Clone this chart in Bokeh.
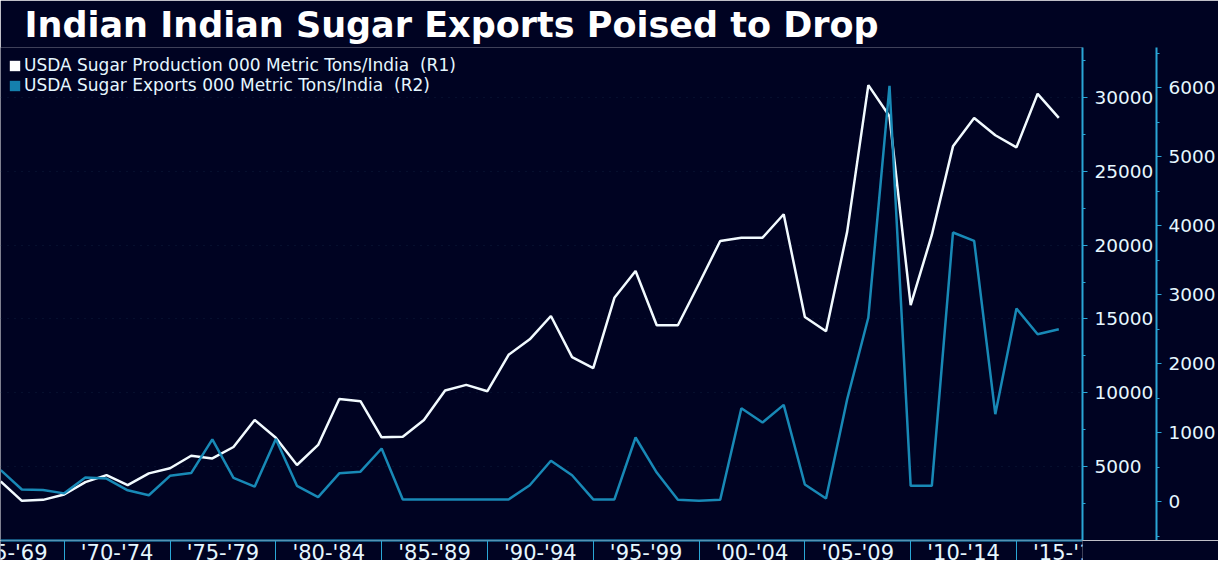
from bokeh.plotting import figure
from bokeh.layouts import column
from bokeh.models import (Range1d, LinearAxis, FixedTicker, Legend, LegendItem, Grid, Span)
from bokeh.core.properties import value
from bokeh.embed import file_html
from bokeh.resources import INLINE

# ---- data ----
years = list(range(1967, 2018))
production = [3980, 2667, 2735, 3100, 3940, 4408, 3728, 4530, 4880, 5728,
              5544, 6320, 8150, 6950, 5100, 6460, 9578, 9422, 6973, 7020,
              8150, 10150, 10530, 10100, 12570, 13620, 15200, 12415, 11667, 16430,
              18245, 14570, 14570, 17400, 20285, 20510, 20510, 22095, 15136, 14160,
              20918, 30850, 28740, 15930, 20694, 26700, 28626, 27449, 26633, 30260,
              28626]
exports = [456, 174, 167, 118, 348, 333, 162, 91, 372, 412,
           900, 343, 215, 906, 227, 63, 408, 432, 768, 30,
           30, 30, 30, 30, 30, 236, 590, 381, 30, 30,
           928, 420, 25, 10, 25, 1352, 1145, 1401, 247, 43,
           1483, 2667, 6024, 227, 227, 3899, 3778, 1266, 2797, 2425,
           2497]

# five-year periods (first and last are cut by the frame edges, as in the source)
period_starts = [1965, 1970, 1975, 1980, 1985, 1990, 1995, 2000, 2005, 2010, 2015, 2020]
period_labels = ["'65-'69", "'70-'74", "'75-'79", "'80-'84", "'85-'89", "'90-'94",
                 "'95-'99", "'00-'04", "'05-'09", "'10-'14", "'15-'19"]
r1_ticks = [5000, 10000, 15000, 20000, 25000, 30000]
r1_minor = [2500, 7500, 12500, 17500, 22500, 27500, 32500]
r2_ticks = [0, 1000, 2000, 3000, 4000, 5000, 6000]
r2_minor = [-500, 500, 1500, 2500, 3500, 4500, 5500, 6500]

title = "Indian Indian Sugar Exports Poised to Drop"
name_prod = "USDA Sugar Production 000 Metric Tons/India  (R1)"
name_exp = "USDA Sugar Exports 000 Metric Tons/India  (R2)"

# ---- style ----
BG = "#000322"
AXIS = "#2aa6d6"
TXT = "#e6f7ff"
WHITE_LINE = "#f2fbff"
BLUE_LINE = "#1889b6"
FONT = "DejaVu Sans"
FRAME_W = 1082
RIGHT_W = 136

x_range = Range1d(1966.99, 2018.12)

p = figure(frame_width=FRAME_W, frame_height=493, output_backend="svg", toolbar_location=None,
           x_range=x_range, y_range=Range1d(-20, 33400),
           x_axis_location=None, y_axis_location=None,
           background_fill_color=BG, border_fill_color=BG, outline_line_color=None,
           min_border_left=0, min_border_right=0, min_border_top=47, min_border_bottom=0)
p.grid.visible = False
p.extra_y_ranges = {"r2": Range1d(-565, 6580)}

def style_axis(ax, size):
    ax.axis_line_color = AXIS
    ax.axis_line_width = 2
    ax.major_tick_line_color = AXIS
    ax.minor_tick_line_color = AXIS
    ax.major_tick_in = 0
    ax.minor_tick_in = 0
    ax.major_tick_out = 5
    ax.minor_tick_out = 3
    ax.major_label_standoff = 7
    ax.major_label_text_color = TXT
    ax.major_label_text_font = FONT
    ax.major_label_text_font_size = size

ax1 = LinearAxis(ticker=FixedTicker(ticks=r1_ticks, minor_ticks=r1_minor))
style_axis(ax1, "18.5px")
p.add_layout(ax1, "right")

ax2 = LinearAxis(y_range_name="r2", ticker=FixedTicker(ticks=r2_ticks, minor_ticks=r2_minor))
style_axis(ax2, "18.5px")
p.add_layout(ax2, "right")

# the time axis line along the bottom of the chart
p.add_layout(Span(location=p.y_range.start, dimension="width",
                  line_color=AXIS, line_width=2))

grid = Grid(dimension=1, ticker=FixedTicker(ticks=r1_ticks),
            grid_line_color="#1c3a5a", grid_line_dash="1 6", grid_line_alpha=0.45)
p.add_layout(grid)

p.line(years, production, line_color=WHITE_LINE, line_width=2.5)
p.line(years, exports, y_range_name="r2", line_color=BLUE_LINE, line_width=2.5)

# legend swatches (hidden renderers, only their legend glyph is shown)
leg1 = p.rect(x=years[:1], y=production[:1], width=0, height=0,
              fill_color="#ffffff", line_color=None, visible=False)
leg2 = p.rect(x=years[:1], y=exports[:1], width=0, height=0, y_range_name="r2",
              fill_color="#1580ad", line_color=None, visible=False)
legend = Legend(items=[LegendItem(label=name_prod, renderers=[leg1]),
                       LegendItem(label=name_exp, renderers=[leg2])],
                location="top_left", margin=8, padding=5, spacing=0,
                glyph_width=13, glyph_height=13, label_height=17, label_standoff=3,
                label_text_line_height=1.0,
                label_text_color=TXT, label_text_font=FONT, label_text_font_size="17px",
                background_fill_alpha=0, border_line_color=None)
p.add_layout(legend)

p.title.text = title
p.title.text_font = FONT
p.title.text_font_size = "35px"
p.title.text_font_style = "bold"
p.title.text_color = "#ffffff"
p.title.offset = 24
p.title.standoff = 5

# ---- period band below the chart: names between boundary separators ----
centers = [s + 2.5 for s in period_starts[:-1]]
q = figure(frame_width=FRAME_W, frame_height=20, output_backend="svg", toolbar_location=None,
           x_range=x_range, y_range=Range1d(0, 1),
           x_axis_location=None, y_axis_location=None,
           background_fill_color=BG, border_fill_color=BG, outline_line_color=None,
           min_border_left=0, min_border_right=RIGHT_W, min_border_top=0, min_border_bottom=0)
q.grid.visible = False
sep = Grid(dimension=0, ticker=FixedTicker(ticks=period_starts),
           grid_line_color=AXIS, grid_line_width=1)
q.add_layout(sep)
q.add_layout(Span(location=q.y_range.end, dimension="width", line_color=AXIS, line_width=2))
q.text(x=centers, y=[1] * len(centers), text=period_labels,
       text_align="center", text_baseline="top",
       text_font=value(FONT), text_font_size="21px", text_color=TXT)

layout = column(p, q, spacing=0)
open("out.html", "w").write(file_html(layout, INLINE))
